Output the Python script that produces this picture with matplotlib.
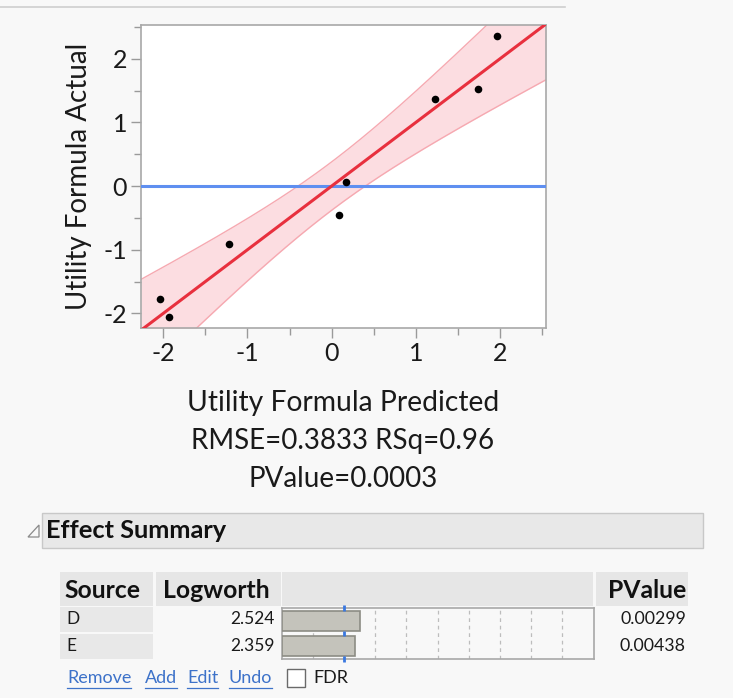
import numpy as np
import matplotlib
matplotlib.use("Agg")
import matplotlib.pyplot as plt
from matplotlib.patches import Rectangle, Polygon
from matplotlib.ticker import MultipleLocator

# actual by predicted points
predicted = [-2.04, -1.93, -1.22, 0.09, 0.17, 1.23, 1.74, 1.96]
actual = [-1.78, -2.06, -0.91, -0.46, 0.07, 1.37, 1.53, 2.36]
mean_actual = 0.0
band_center = 0.38   # half width of confidence band at the centre
band_slope = 0.31    # growth of the half width away from the centre
fit_text = "RMSE=0.3833 RSq=0.96"
pvalue_text = "PValue=0.0003"

# effect summary
sources = ["D", "E"]
logworth = [2.524, 2.359]
pvalues = ["0.00299", "0.00438"]
logworth_ref = 2.0
links = ["Remove", "Add", "Edit", "Undo"]

plt.rcParams['font.family'] = ['Lato', 'DejaVu Sans']
plt.rcParams['axes.unicode_minus'] = False

W, H = 733, 698
bg = "#f8f8f8"
fig = plt.figure(figsize=(W / 100, H / 100), dpi=100, facecolor=bg)


def px_axes(x0, y0, x1, y1):
    return fig.add_axes([x0 / W, 1 - y1 / H, (x1 - x0) / W, (y1 - y0) / H])


# overlay for the report furniture, pixel coords
ov = fig.add_axes([0, 0, 1, 1], zorder=0)
ov.set_xlim(0, W)
ov.set_ylim(H, 0)
ov.axis("off")
ov.plot([0, 565], [6.5, 6.5], color="#cfcfcf", lw=1.2)

# main plot
ax = px_axes(141, 25, 546, 328)
ax.set_facecolor("white")
xlim = (-2.265, 2.546)
ylim = (-2.23, 2.53)
xs = np.linspace(xlim[0], xlim[1], 200)
hw = np.sqrt(band_center ** 2 + (band_slope * xs) ** 2)
ax.fill_between(xs, xs - hw, xs + hw, color="#fcdde1", lw=0, zorder=1)
ax.plot(xs, xs - hw, color="#f6a9b1", lw=1, zorder=2)
ax.plot(xs, xs + hw, color="#f6a9b1", lw=1, zorder=2)
ax.axhline(mean_actual, color="#5f8ff0", lw=2.2, zorder=3)
ax.plot(xs, xs, color="#e8303e", lw=2.2, zorder=4)
ax.scatter(predicted, actual, s=30, color="black", zorder=5, linewidths=0)
ax.set_xlim(*xlim)
ax.set_ylim(*ylim)
ax.xaxis.set_major_locator(MultipleLocator(1))
ax.xaxis.set_minor_locator(MultipleLocator(0.5))
ax.yaxis.set_major_locator(MultipleLocator(1))
ax.yaxis.set_minor_locator(MultipleLocator(0.5))
ax.tick_params(which="major", length=7, width=1, color="#9a9a9a",
               labelsize=18, labelcolor="#1a1a1a", pad=3)
ax.tick_params(which="minor", length=5, width=1, color="#9a9a9a")
for sp in ax.spines.values():
    sp.set_color("#a8a8a8")
    sp.set_linewidth(1.2)
ax.set_xlabel("Utility Formula Predicted", fontsize=20.3, color="#1a1a1a", labelpad=18)
ax.set_ylabel("Utility Formula Actual", fontsize=20, color="#1a1a1a", labelpad=8)

ov.text(343, 441, fit_text, fontsize=20, ha="center", va="center", color="#1a1a1a")
ov.text(343, 479, pvalue_text, fontsize=20, ha="center", va="center", color="#1a1a1a")

# effect summary header
ov.add_patch(Rectangle((42, 513), 661, 35, facecolor="#e8e8e8", edgecolor="#c8c8c8", lw=1))
ov.add_patch(Polygon([(28, 537), (39, 537), (39, 525)], closed=True, fill=False,
                     edgecolor="#8a8a8a", lw=0.9))
ov.text(46, 531, "Effect Summary", fontsize=18.3, fontweight="bold", ha="left", va="center",
        color="#111111")

# table header cells
head_y0, head_y1 = 572, 606
for x0, x1 in [(60, 153), (156, 280.5), (282, 593), (596, 688)]:
    ov.add_patch(Rectangle((x0, head_y0), x1 - x0, head_y1 - head_y0,
                           facecolor="#e6e6e6", edgecolor="none"))
ov.text(64, 590, "Source", fontsize=17.8, fontweight="bold", va="center", color="#111111")
ov.text(163, 590, "Logworth", fontsize=17.8, fontweight="bold", va="center", color="#111111")
ov.text(686, 590, "PValue", fontsize=17.8, fontweight="bold", va="center", ha="right",
        color="#111111")

row_y = [619, 646]
for i, (src, lw_, pv) in enumerate(zip(sources, logworth, pvalues)):
    y = row_y[i]
    ov.add_patch(Rectangle((60, y - 12), 93, 25, facecolor="#e8e8e8", edgecolor="none"))
    ov.text(66, y, src, fontsize=12.5, va="center", color="#1a1a1a")
    ov.text(275, y, f"{lw_:.3f}", fontsize=12.5, va="center", ha="right", color="#1a1a1a")
    ov.text(686, y, pv, fontsize=12.8, va="center", ha="right", color="#1a1a1a")

# logworth bars
bx = px_axes(281.5, 608, 593.5, 659)
bx.set_facecolor("#f8f8f8")
ypos = np.arange(len(sources))
bx.barh(ypos, logworth, height=0.78, color="#c4c3bb", edgecolor="#8c8c84", lw=1.2,
        align="center", zorder=3)
bx.set_xlim(0, 10)
bx.set_ylim(len(sources) - 0.5, -0.5)
for g in range(1, 10):
    bx.axvline(g, color="#bdbdbd", lw=0.9, ls=(0, (3, 3)), zorder=1)
for yy in [-0.5, 0.5, 1.5]:
    bx.plot([logworth_ref, logworth_ref], [yy - 0.1, yy + 0.1], color="#3a78e0", lw=2,
            zorder=4, clip_on=False, solid_capstyle="butt")
bx.set_xticks([])
bx.set_yticks([])
for sp in bx.spines.values():
    sp.set_color("#a8a8a8")
    sp.set_linewidth(1.2)

# links and checkbox
link_x = [67, 145, 187, 229]
for name, x in zip(links, link_x):
    t = ov.text(x, 678, name, fontsize=13, va="center", color="#3d72c9")
    fig.canvas.draw()
    bb = t.get_window_extent().transformed(ov.transData.inverted())
    ov.plot([bb.x0, bb.x1], [688, 688], color="#3d72c9", lw=0.9)
ov.add_patch(Rectangle((287, 669), 18, 18, facecolor="white", edgecolor="#6a6a6a", lw=1))
ov.text(313, 678, "FDR", fontsize=13, va="center", color="#1a1a1a")

fig.savefig("out.png", dpi=100, facecolor=bg)
